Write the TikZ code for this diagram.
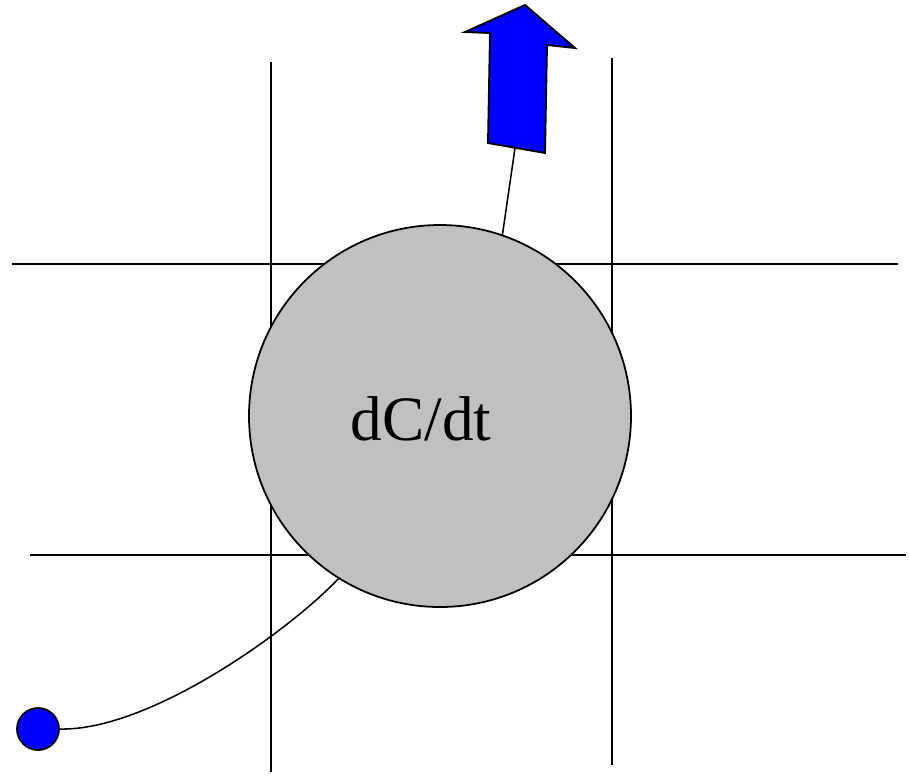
\documentclass[tikz,border=0pt]{standalone}
\usepackage{fontspec}
\setmainfont{Liberation Serif}
\definecolor{cgrey}{HTML}{C0C0C0}
\definecolor{cblue}{HTML}{0000FF}
\begin{document}
\begin{tikzpicture}[x=0.03cm,y=-0.03cm,
  gridline/.style={line width=2pt,black},
  conn/.style={line width=1.3pt,black},
  bigcircle/.style={circle,draw=black,line width=1.5pt,fill=cgrey,minimum size=11.46cm,inner sep=0pt},
  bluedot/.style={circle,draw=black,line width=1.5pt,fill=cblue,minimum size=1.26cm,inner sep=0pt},
  lbl/.style={font=\fontsize{54}{60}\selectfont,inner sep=0pt}]
\useasboundingbox (0,0) rectangle (909,775);
% grid
\coordinate (v1t) at (271,62); \coordinate (v1b) at (271,772);
\coordinate (v2t) at (612,58); \coordinate (v2b) at (612,765);
\coordinate (h1l) at (12,264); \coordinate (h1r) at (898,264);
\coordinate (h2l) at (30,555); \coordinate (h2r) at (906,555);
\draw[gridline] (v1t) -- (v1b);
\draw[gridline] (v2t) -- (v2b);
\draw[gridline] (h1l) -- (h1r);
\draw[gridline] (h2l) -- (h2r);
% circle
\node[bigcircle] (c) at (440,416) {};
\node[lbl] (t) at (421,419) {dC/dt};
% arrow
\draw[black,line width=1.6pt,fill=cblue,line join=miter]
  (525,5) -- (575,48) -- (547,45) -- (545,153) -- (488,143) -- (490,33) -- (465,32) -- cycle;
\coordinate (abase) at (515,148);
\draw[conn] (abase) -- (c.71);
% dot and curve
\node[bluedot] (d) at (38,729) {};
\draw[conn] (d.east) .. controls (150,731) and (290,630) .. (c.238);
\end{tikzpicture}
\end{document}
